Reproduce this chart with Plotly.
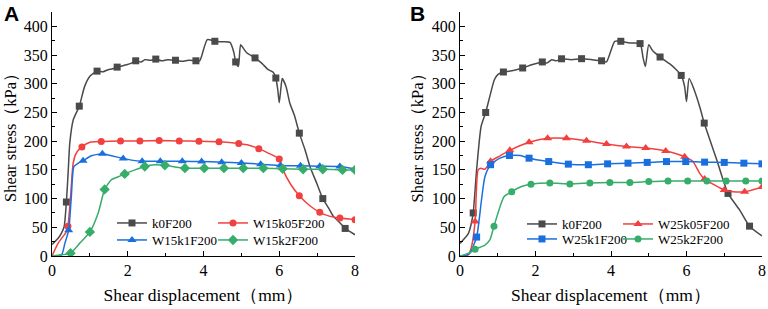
import plotly.graph_objects as go

# ---------------- Panel A data ----------------
A_k0_x = [0, 0.15, 0.25, 0.32, 0.38, 0.43, 0.47, 0.56, 0.72, 0.86, 1.0, 1.19, 1.35, 1.48, 1.6, 1.72, 1.85, 1.97,
          2.1, 2.21, 2.35, 2.45, 2.6, 2.74, 2.9, 3.05, 3.26, 3.45, 3.6, 3.8, 3.9, 4.1, 4.3, 4.5, 4.7, 4.8, 4.85,
          4.92, 4.98, 5.05, 5.14, 5.36, 5.55, 5.7, 5.84, 5.91, 5.96, 6.0, 6.04, 6.08, 6.18, 6.28, 6.4, 6.53, 6.68,
          6.81, 7.0, 7.15, 7.3, 7.43, 7.6, 7.74, 7.88, 8.0]
A_k0_y = [20, 30, 40, 51, 94, 150, 197, 237, 261, 295, 313, 322, 321, 324.5, 326, 329, 331, 333,
          336, 340, 338, 342, 341, 343, 340, 342, 341, 339, 341, 340, 340, 377, 374, 373, 372, 355, 338,
          330, 368, 362, 354, 345, 335, 325, 320, 310, 290, 267, 290, 309, 295, 266, 245, 214, 185,
          156, 125, 100, 84, 69, 58, 48, 42, 37]
A_k0_mx = [0.38, 0.72, 1.19, 1.72, 2.21, 2.74, 3.26, 3.8, 4.3, 4.85, 5.36, 5.91, 6.53, 7.15, 7.74]
A_k0_my = [94, 261, 322, 329, 340, 343, 341, 340, 374, 338, 345, 310, 214, 100, 48]

A_r_x = [0, 0.16, 0.29, 0.36, 0.42, 0.49, 0.56, 0.64, 0.79, 1.0, 1.3, 1.81, 2.32, 2.83, 3.36, 3.88, 4.41,
         4.93, 5.2, 5.46, 5.75, 6.0, 6.1, 6.3, 6.53, 6.8, 7.07, 7.34, 7.6, 8.0]
A_r_y = [0, 22, 34, 40, 52, 103, 162, 179, 190, 198, 199.5, 200.5, 200.5, 201, 200.5, 200, 199,
         196, 193, 187, 178, 169, 150, 125, 105, 88, 76, 69, 66, 63]
A_r_mx = [0.42, 0.79, 1.3, 1.81, 2.32, 2.83, 3.36, 3.88, 4.41, 4.93, 5.46, 6.0, 6.53, 7.07, 7.6, 8.0]
A_r_my = [52, 190, 199.5, 200.5, 200.5, 201, 200.5, 200, 199, 196, 187, 169, 105, 76, 66, 63]

A_b_x = [0, 0.25, 0.34, 0.44, 0.51, 0.58, 0.7, 0.82, 1.04, 1.2, 1.33, 1.57, 1.88, 2.1, 2.38, 2.86, 3.44,
         3.95, 4.48, 5.0, 5.51, 6.03, 6.56, 7.07, 7.6, 8.0]
A_b_y = [0, 2, 22, 45, 103, 156, 162, 166, 174.5, 177, 178, 174.5, 170, 167, 165, 165, 165,
         164.5, 163.5, 162, 160, 157.6, 157, 156.5, 156, 152]
A_b_mx = [0.44, 0.82, 1.33, 1.88, 2.38, 2.86, 3.44, 3.95, 4.48, 5.0, 5.51, 6.03, 6.56, 7.07, 7.6]
A_b_my = [45, 166, 178, 170, 165, 165, 165, 164.5, 163.5, 162, 160, 157.6, 157, 156.5, 156]

A_g_x = [0, 0.25, 0.49, 0.73, 1.0, 1.22, 1.39, 1.57, 1.75, 1.92, 2.19, 2.45, 2.71, 2.98, 3.25, 3.51, 4.02,
         4.54, 5.05, 5.58, 6.09, 6.63, 7.15, 7.67, 8.0]
A_g_y = [0, 2, 5, 22, 42, 75, 116, 133, 138, 143, 150, 156, 159, 158, 155, 153, 153,
         153, 153, 153, 152, 151, 151, 150, 150]
A_g_mx = [0.49, 1.0, 1.39, 1.92, 2.45, 2.98, 3.51, 4.02, 4.54, 5.05, 5.58, 6.09, 6.63, 7.15, 7.67, 8.0]
A_g_my = [5, 42, 116, 143, 156, 158, 153, 153, 153, 153, 153, 152, 151, 151, 150, 150]

# ---------------- Panel B data ----------------
B_k0_x = [0, 0.22, 0.29, 0.35, 0.44, 0.56, 0.68, 0.79, 0.91, 1.0, 1.15, 1.41, 1.66, 1.9, 2.18, 2.3, 2.43,
          2.55, 2.69, 2.95, 3.22, 3.5, 3.75, 3.88, 4.1, 4.26, 4.5, 4.77, 4.85, 4.91, 5.0, 5.1, 5.3, 5.55,
          5.73, 5.86, 5.95, 6.0, 6.07, 6.2, 6.35, 6.47, 6.8, 7.1, 7.41, 7.67, 8.0]
B_k0_y = [22, 39, 54, 75, 150, 226, 250, 278, 307, 316, 320.5, 323, 327.5, 333, 338, 336, 342,
          340, 343.5, 342, 343.7, 342, 340, 338, 374, 374, 371, 370, 345, 330, 368, 358, 346.6, 335,
          324.5, 314.5, 295, 269, 309, 290, 260, 231.5, 167.5, 109, 80, 52, 35]
B_k0_mx = [0.35, 0.68, 1.15, 1.66, 2.18, 2.69, 3.22, 3.75, 4.26, 4.77, 5.3, 5.86, 6.47, 7.1, 7.67]
B_k0_my = [75, 250, 320.5, 327.5, 338, 343.5, 343.7, 340, 374, 370, 346.6, 314.5, 231.5, 109, 52]

B_r_x = [0, 0.15, 0.22, 0.3, 0.4, 0.48, 0.55, 0.66, 0.81, 1.06, 1.32, 1.83, 2.32, 2.82, 3.35, 3.88, 4.41,
         4.92, 5.45, 5.95, 6.17, 6.35, 6.48, 6.79, 7.0, 7.23, 7.54, 8.0]
B_r_y = [0, 0, 2, 15, 60, 150, 153, 151, 165, 174.5, 184, 198, 205, 205, 200.6, 195, 190.7,
         188, 183, 173, 164.5, 144, 134, 122, 115, 112, 112, 120]
B_r_mx = [0.4, 0.81, 1.32, 1.83, 2.32, 2.82, 3.35, 3.88, 4.41, 4.92, 5.45, 5.95, 6.48, 7.0, 7.54, 8.0]
B_r_my = [60, 165, 184, 198, 205, 205, 200.6, 195, 190.7, 188, 183, 173, 134, 115, 112, 120]

B_b_x = [0, 0.18, 0.26, 0.44, 0.57, 0.66, 0.81, 1.06, 1.31, 1.6, 1.83, 2.35, 2.87, 3.4, 3.91, 4.45, 4.96,
         5.47, 5.98, 6.48, 7.0, 7.52, 8.0]
B_b_y = [0, 2, 5, 33, 98, 138, 159, 170.4, 175, 175, 170.4, 164.5, 160, 159, 160.5, 161.7, 163,
         164.5, 164.5, 163.5, 163, 161.7, 160.5]
B_b_mx = [0.44, 0.81, 1.31, 1.83, 2.35, 2.87, 3.4, 3.91, 4.45, 4.96, 5.47, 5.98, 6.48, 7.0, 7.52, 8.0]
B_b_my = [33, 159, 175, 170.4, 164.5, 160, 159, 160.5, 161.7, 163, 164.5, 164.5, 163.5, 163, 161.7, 160.5]

B_g_x = [0, 0.26, 0.4, 0.66, 0.79, 0.9, 1.06, 1.17, 1.37, 1.63, 1.88, 2.38, 2.91, 3.44, 3.97, 4.5, 5.0,
         5.51, 6.03, 6.54, 7.05, 7.57, 8.0]
B_g_y = [0, 6, 11.6, 19, 28, 52, 86, 103.5, 112, 121, 125, 127, 125.6, 127, 128, 128, 129.6,
         130.8, 130.8, 130.8, 130.8, 130.8, 130.8]
B_g_mx = [0.4, 0.9, 1.37, 1.88, 2.38, 2.91, 3.44, 3.97, 4.5, 5.0, 5.51, 6.03, 6.54, 7.05, 7.57, 8.0]
B_g_my = [11.6, 52, 112, 125, 127, 125.6, 127, 128, 128, 129.6, 130.8, 130.8, 130.8, 130.8, 130.8, 130.8]

x_ticks = [0, 2, 4, 6, 8]
y_ticks = [0, 50, 100, 150, 200, 250, 300, 350, 400]
x_title = "Shear displacement（mm）"
y_title = "Shear stress（kPa）"
panel_labels = ["A", "B"]

GREY, RED, BLUE, GREEN = "#4a4a4a", "#F14040", "#1A6FDF", "#37AD6B"

# name, x, y, marker x, marker y, colour, symbol, axes, legend slot (left px, centre px)
series = [
    ("k0F200", A_k0_x, A_k0_y, A_k0_mx, A_k0_my, GREY, "square", "x", "y", (112, 223)),
    ("W15k05F200", A_r_x, A_r_y, A_r_mx, A_r_my, RED, "circle", "x", "y", (213, 223)),
    ("W15k1F200", A_b_x, A_b_y, A_b_mx, A_b_my, BLUE, "triangle-up", "x", "y", (112, 240)),
    ("W15k2F200", A_g_x, A_g_y, A_g_mx, A_g_my, GREEN, "diamond", "x", "y", (213, 240)),
    ("k0F200", B_k0_x, B_k0_y, B_k0_mx, B_k0_my, GREY, "square", "x2", "y2", (522, 224)),
    ("W25k05F200", B_r_x, B_r_y, B_r_mx, B_r_my, RED, "triangle-up", "x2", "y2", (618, 224)),
    ("W25k1F200", B_b_x, B_b_y, B_b_mx, B_b_my, BLUE, "square", "x2", "y2", (522, 239)),
    ("W25k2F200", B_g_x, B_g_y, B_g_mx, B_g_my, GREEN, "circle", "x2", "y2", (618, 239)),
]

SERIF = "Liberation Serif, Times New Roman, serif"
tickfont = dict(family=SERIF, size=16, color="black")
legfont = dict(family=SERIF, size=13, color="black")

# figure geometry (pixels)
W, H = 768, 309
ML, MR, MT, MB = 52, 6, 12, 53
PW, PH = W - ML - MR, H - MT - MB

def px_x(p):
    return (p - ML) / PW

def px_y(p):
    return (H - MB - p) / PH

fig = go.Figure()
legends = {}
for i, (name, x, y, mx, my, col, sym, xa, ya, slot) in enumerate(series):
    lg = "legend" if i == 0 else "legend%d" % (i + 1)
    legends[lg] = dict(x=px_x(slot[0]), y=px_y(slot[1]), xanchor="left", yanchor="middle",
                       font=legfont, bgcolor="rgba(0,0,0,0)", borderwidth=0, itemwidth=30)
    msize = 8 if sym in ("triangle-up", "diamond") else 7
    fig.add_trace(go.Scatter(x=x, y=y, mode="lines", line=dict(color=col, width=1.5, shape="spline", smoothing=0.6),
                             xaxis=xa, yaxis=ya, showlegend=False, hoverinfo="skip"))
    fig.add_trace(go.Scatter(x=mx, y=my, mode="markers", marker=dict(color=col, symbol=sym, size=msize),
                             xaxis=xa, yaxis=ya, showlegend=False, hoverinfo="skip"))
    fig.add_trace(go.Scatter(x=[None], y=[None], mode="lines+markers", name=name,
                             line=dict(color=col, width=1.5), marker=dict(color=col, symbol=sym, size=msize),
                             xaxis=xa, yaxis=ya, legend=lg, showlegend=True, hoverinfo="skip"))

def xax(domain, anchor):
    return dict(domain=domain, anchor=anchor, range=[0, 8], tickvals=x_ticks, ticks="inside", ticklen=5,
                tickwidth=1.2, tickcolor="black", showline=True, linecolor="black", linewidth=1.3,
                showgrid=False, zeroline=False, tickfont=tickfont, automargin=False,
                ticklabeloverflow="allow", fixedrange=True,
                minor=dict(dtick=1, ticks="inside", ticklen=3, tickcolor="black", tickwidth=1),
                title=dict(text=x_title, font=dict(family=SERIF, size=17.5, color="black"), standoff=10))

def yax(domain, anchor):
    return dict(domain=domain, anchor=anchor, range=[0, 425], tickvals=y_ticks, ticks="inside", ticklen=5,
                tickwidth=1.2, tickcolor="black", showline=True, linecolor="black", linewidth=1.3,
                showgrid=False, zeroline=False, tickfont=tickfont, automargin=False, fixedrange=True,
                minor=dict(dtick=25, ticks="inside", ticklen=3, tickcolor="black", tickwidth=1))

annotations = []
for lab, xp in zip(panel_labels, [2, 408]):
    annotations.append(dict(text="<b>%s</b>" % lab, x=px_x(xp), y=px_y(0), xref="paper", yref="paper",
                            xanchor="left", yanchor="top", showarrow=False,
                            font=dict(family="Liberation Sans, Arial, sans-serif", size=21, color="black")))
for xp in [10, 416.5]:
    annotations.append(dict(text=y_title, x=px_x(xp), y=px_y(134), xref="paper", yref="paper",
                            xanchor="center", yanchor="middle", textangle=-90, showarrow=False,
                            font=dict(family=SERIF, size=16.5, color="black")))

fig.update_layout(
    width=W, height=H, margin=dict(l=ML, r=MR, t=MT, b=MB, autoexpand=False),
    paper_bgcolor="white", plot_bgcolor="white", hovermode=False,
    xaxis=xax([0, px_x(355)], "y"),
    yaxis=yax([0, 1], "x"),
    xaxis2=xax([px_x(460), 1], "y2"),
    yaxis2=yax([0, 1], "x2"),
    annotations=annotations,
    **legends,
)

fig.write_html("out.html", config={"displayModeBar": False},
               post_script="document.body.style.margin='0';document.body.style.overflow='hidden';")
